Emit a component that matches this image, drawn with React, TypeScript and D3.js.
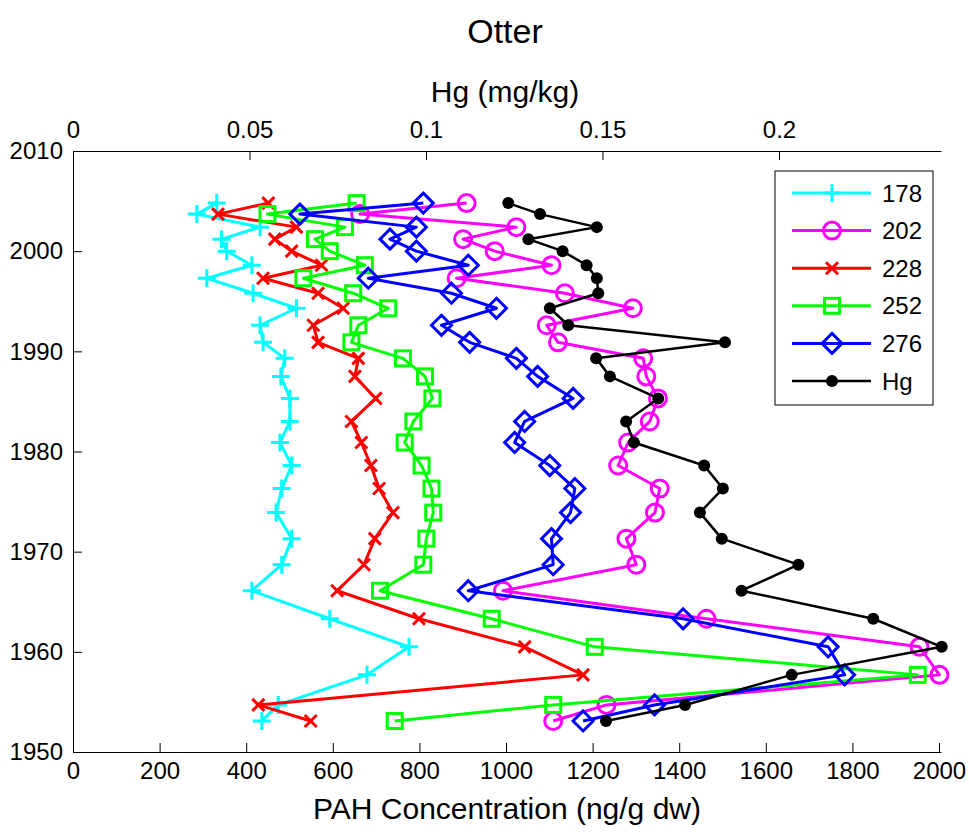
import React, { useEffect, useRef } from "react";
import * as d3 from "d3";

const years = [2004.8, 2003.7, 2002.4, 2001.2, 2000.0, 1998.6, 1997.3, 1995.8, 1994.3, 1992.6, 1990.9, 1989.3, 1987.5, 1985.3, 1983.0, 1980.9, 1978.6, 1976.3, 1973.9, 1971.3, 1968.7, 1966.1, 1963.3, 1960.5, 1957.7, 1954.7, 1953.1];

const pah178 = [332, 286, 432, 343, 355, 413, 309, 416, 516, 432, 439, 489, 480, 501, 501, 478, 505, 482, 469, 505, 482, 413, 593, 776, 679, 474, 436];
const pah202 = [909, 663, 1024, 901, 974, 1105, 886, 1136, 1293, 1094, 1120, 1317, 1324, 1351, 1332, 1282, 1259, 1355, 1344, 1278, 1301, 993, 1463, 1955, 2001, 1232, 1109];
const pah228 = [451, 335, 516, 466, 505, 574, 439, 566, 624, 555, 566, 659, 651, 699, 643, 666, 688, 707, 739, 697, 672, 610, 799, 1043, 1178, 428, 549];
const pah252 = [655, 449, 628, 559, 593, 674, 532, 647, 728, 659, 643, 762, 813, 830, 786, 766, 805, 828, 832, 816, 809, 709, 967, 1205, 1951, 1109, 743];
const pah276 = [809, 524, 793, 732, 793, 913, 682, 874, 978, 851, 916, 1024, 1073, 1155, 1043, 1020, 1101, 1159, 1149, 1105, 1109, 913, 1409, 1744, 1782, 1343, 1178];
const hg = [0.1233, 0.1323, 0.1484, 0.129, 0.1387, 0.1455, 0.1484, 0.1488, 0.1351, 0.1403, 0.1847, 0.1482, 0.1521, 0.1658, 0.1567, 0.1589, 0.1788, 0.1841, 0.1776, 0.1838, 0.2055, 0.1894, 0.2267, 0.2461, 0.2036, 0.1734, 0.151];

const seriesNames = ["178", "202", "228", "252", "276", "Hg"];
const seriesColors = ["#00ffff", "#ff00ff", "#ff0000", "#00ff00", "#0000ff", "#000000"];
const seriesMarkers = ["plus", "circle", "cross", "square", "diamond", "dot"];

const pahTicks = [0, 200, 400, 600, 800, 1000, 1200, 1400, 1600, 1800, 2000];
const hgTicks = [0, 0.05, 0.1, 0.15, 0.2];
const hgTickLabels = ["0", "0.05", "0.1", "0.15", "0.2"];
const yearTicks = [1950, 1960, 1970, 1980, 1990, 2000, 2010];

const W = 969;
const H = 835;
const PL = 73, PR = 941, PT = 151, PB = 752;
const FONT = "'Liberation Sans', Arial, Helvetica, sans-serif";

function drawMarker(g: any, kind: string, cx: number, cy: number, color: string) {
  const sw = 3;
  if (kind === "plus") {
    const s = 9;
    g.append("path").attr("d", `M${cx - s},${cy}H${cx + s}M${cx},${cy - s}V${cy + s}`).attr("stroke", color).attr("stroke-width", sw).attr("fill", "none");
  } else if (kind === "circle") {
    g.append("circle").attr("cx", cx).attr("cy", cy).attr("r", 8.5).attr("stroke", color).attr("stroke-width", sw).attr("fill", "none");
  } else if (kind === "cross") {
    const s = 6;
    g.append("path").attr("d", `M${cx - s},${cy - s}L${cx + s},${cy + s}M${cx - s},${cy + s}L${cx + s},${cy - s}`).attr("stroke", color).attr("stroke-width", sw).attr("fill", "none");
  } else if (kind === "square") {
    const s = 7.5;
    g.append("rect").attr("x", cx - s).attr("y", cy - s).attr("width", 2 * s).attr("height", 2 * s).attr("stroke", color).attr("stroke-width", sw).attr("fill", "none");
  } else if (kind === "diamond") {
    const s = 10;
    g.append("path").attr("d", `M${cx},${cy - s}L${cx + s},${cy}L${cx},${cy + s}L${cx - s},${cy}Z`).attr("stroke", color).attr("stroke-width", sw).attr("fill", "none");
  } else if (kind === "dot") {
    g.append("circle").attr("cx", cx).attr("cy", cy).attr("r", 6).attr("fill", color);
  }
}

export default function App() {
  const ref = useRef<SVGSVGElement>(null);
  useEffect(() => {
    const svg = d3.select(ref.current);
    svg.selectAll("*").remove();
    const x = d3.scaleLinear().domain([0, 2004.6]).range([PL, PR]);
    const xHg = d3.scaleLinear().domain([0, 0.2459]).range([PL, PR]);
    const y = d3.scaleLinear().domain([1950, 2010]).range([PB, PT]);

    svg.append("rect").attr("width", W).attr("height", H).attr("fill", "#fff");

    // axes
    const bottom = svg.append("g").attr("transform", `translate(0,${PB})`)
      .call(d3.axisBottom(x).tickValues(pahTicks).tickFormat(d3.format("d")).tickSizeInner(-9).tickSizeOuter(0).tickPadding(10));
    const top = svg.append("g").attr("transform", `translate(0,${PT})`)
      .call(d3.axisTop(xHg).tickValues(hgTicks).tickFormat((d: any, i: number) => hgTickLabels[i]).tickSizeInner(-9).tickSizeOuter(0).tickPadding(13));
    const left = svg.append("g").attr("transform", `translate(${PL},0)`)
      .call(d3.axisLeft(y).tickValues(yearTicks).tickFormat(d3.format("d")).tickSizeInner(-9).tickSizeOuter(0).tickPadding(10));
    for (const a of [bottom, top, left]) {
      a.select(".domain").attr("stroke", "#000").attr("stroke-width", 1);
      a.selectAll(".tick line").attr("stroke", "#000").attr("stroke-width", 1);
      a.selectAll(".tick text").attr("fill", "#000").style("font-family", FONT).style("font-size", "24px");
    }

    // series
    const plotG = svg.append("g");
    const pahSeries = [pah178, pah202, pah228, pah252, pah276];
    pahSeries.forEach((vals, si) => {
      const line = d3.line<number>().x((v) => x(v)).y((_, i) => y(years[i]));
      plotG.append("path").attr("d", line(vals) as string).attr("fill", "none").attr("stroke", seriesColors[si]).attr("stroke-width", 3).attr("stroke-linejoin", "round");
      vals.forEach((v, i) => drawMarker(plotG, seriesMarkers[si], x(v), y(years[i]), seriesColors[si]));
    });
    const hgLine = d3.line<number>().x((v) => xHg(v)).y((_, i) => y(years[i]));
    plotG.append("path").attr("d", hgLine(hg) as string).attr("fill", "none").attr("stroke", "#000").attr("stroke-width", 2.5).attr("stroke-linejoin", "round");
    hg.forEach((v, i) => drawMarker(plotG, "dot", xHg(v), y(years[i]), "#000"));

    // legend
    const lg = svg.append("g");
    lg.append("rect").attr("x", 775).attr("y", 171).attr("width", 158).attr("height", 234).attr("fill", "#fff").attr("stroke", "#000").attr("stroke-width", 1);
    seriesNames.forEach((name, i) => {
      const ly = 193 + i * 37.6;
      lg.append("line").attr("x1", 792).attr("x2", 871).attr("y1", ly).attr("y2", ly).attr("stroke", seriesColors[i]).attr("stroke-width", i === 5 ? 2.5 : 3);
      drawMarker(lg, seriesMarkers[i], 832, ly, seriesColors[i]);
      lg.append("text").attr("x", 882).attr("y", ly).attr("dy", "0.36em").text(name).style("font-family", FONT).style("font-size", "24px").attr("fill", "#000");
    });

    // titles
    svg.append("text").attr("x", 505).attr("y", 43).attr("text-anchor", "middle").text("Otter").style("font-family", FONT).style("font-size", "34px");
    svg.append("text").attr("x", 505).attr("y", 102).attr("text-anchor", "middle").text("Hg (mg/kg)").style("font-family", FONT).style("font-size", "30px");
    svg.append("text").attr("x", 507).attr("y", 819).attr("text-anchor", "middle").text("PAH Concentration (ng/g dw)").style("font-family", FONT).style("font-size", "30px");
  }, []);
  return <svg ref={ref} width={W} height={H} style={{ position: "absolute", left: 0, top: 0 }} />;
}
